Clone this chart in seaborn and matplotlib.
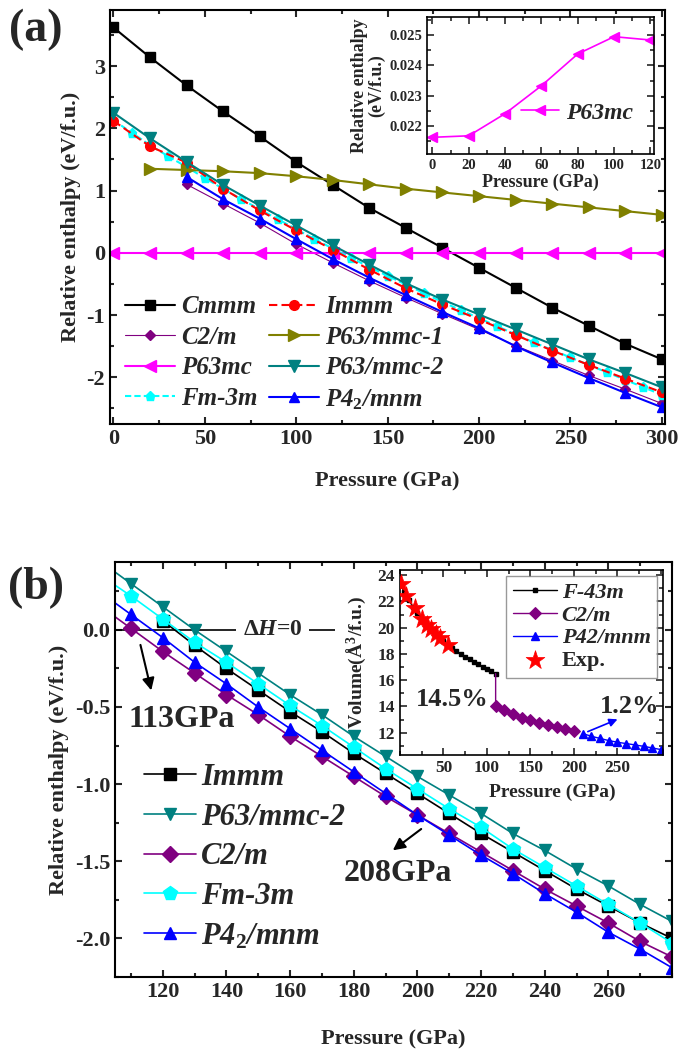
import matplotlib
matplotlib.use('Agg')
import matplotlib.pyplot as plt
import seaborn as sns
from matplotlib.ticker import AutoMinorLocator, MultipleLocator, FormatStrFormatter

sns.set_style('ticks')
plt.rcParams['font.family'] = ['Liberation Serif', 'DejaVu Serif']
plt.rcParams['font.weight'] = 'bold'
plt.rcParams['axes.labelweight'] = 'bold'
plt.rcParams['mathtext.fontset'] = 'custom'
plt.rcParams['mathtext.rm'] = 'Liberation Serif:bold'
plt.rcParams['mathtext.it'] = 'Liberation Serif:italic:bold'
plt.rcParams['mathtext.bf'] = 'Liberation Serif:bold'
plt.rcParams['axes.unicode_minus'] = False

# ---------------- panel (a): relative enthalpy, 0-300 GPa ----------------
p_a = [0, 20, 40, 60, 80, 100, 120, 140, 160, 180, 200, 220, 240, 260, 280, 300]
cmmm_a = [3.62, 3.14, 2.69, 2.27, 1.87, 1.46, 1.09, 0.72, 0.40, 0.08, -0.24, -0.56, -0.88, -1.17, -1.46, -1.71]
immm_a = [2.12, 1.71, 1.45, 1.03, 0.68, 0.36, 0.05, -0.27, -0.57, -0.83, -1.07, -1.32, -1.57, -1.80, -2.02, -2.24]
p63mc_a = [0, 0, 0, 0, 0, 0, 0, 0, 0, 0, 0, 0, 0, 0, 0, 0]
p63mmc2_a = [2.25, 1.84, 1.46, 1.09, 0.76, 0.44, 0.12, -0.19, -0.49, -0.75, -0.99, -1.23, -1.47, -1.71, -1.93, -2.16]

p_mmc1_a = [20, 40, 60, 80, 100, 120, 140, 160, 180, 200, 220, 240, 260, 280, 300]
p63mmc1_a = [1.35, 1.33, 1.31, 1.28, 1.23, 1.17, 1.10, 1.03, 0.97, 0.91, 0.85, 0.79, 0.73, 0.67, 0.61]

p_hi_a = [40, 60, 80, 100, 120, 140, 160, 180, 200, 220, 240, 260, 280, 300]
c2m_a = [1.10, 0.79, 0.48, 0.14, -0.16, -0.45, -0.72, -0.98, -1.23, -1.49, -1.73, -1.97, -2.19, -2.42]
p42_a = [1.22, 0.86, 0.55, 0.22, -0.10, -0.40, -0.68, -0.95, -1.21, -1.50, -1.76, -2.01, -2.25, -2.48]

p_fm_a = [0, 10, 20, 30, 40, 50, 60, 70, 80, 90, 100, 110, 120, 130, 140, 150,
          160, 170, 180, 190, 200, 210, 220, 230, 240, 250, 260, 270, 280, 290, 300]
fm3m_a = [2.13, 1.93, 1.73, 1.55, 1.38, 1.20, 1.03, 0.86, 0.70, 0.54, 0.38, 0.22, 0.07, -0.08, -0.23, -0.37,
          -0.51, -0.65, -0.79, -0.92, -1.05, -1.18, -1.31, -1.44, -1.56, -1.68, -1.80, -1.92, -2.04, -2.16, -2.28]

# inset (a): P63mc only
p_ins_a = [0, 20, 40, 60, 80, 100, 120]
h_ins_a = [0.02163, 0.02168, 0.02241, 0.02333, 0.02438, 0.02495, 0.02484]

# ---------------- panel (b): zoom 105-280 GPa ----------------
p_b = [100, 110, 120, 130, 140, 150, 160, 170, 180, 190, 200, 210, 220, 230, 240, 250, 260, 270, 280]
p63mmc2_b = [0.45, 0.30, 0.15, 0.00, -0.14, -0.28, -0.42, -0.55, -0.69, -0.82, -0.95, -1.07, -1.19, -1.32, -1.43, -1.55, -1.66, -1.78, -1.89]
fm3m_b = [0.36, 0.22, 0.07, -0.08, -0.21, -0.35, -0.49, -0.62, -0.76, -0.90, -1.03, -1.16, -1.28, -1.42, -1.54, -1.66, -1.78, -1.90, -2.03]
c2m_b = [0.16, 0.01, -0.14, -0.28, -0.42, -0.55, -0.69, -0.82, -0.95, -1.08, -1.20, -1.32, -1.44, -1.56, -1.68, -1.79, -1.90, -2.02, -2.12]
p42_b = [0.25, 0.10, -0.05, -0.21, -0.35, -0.50, -0.64, -0.78, -0.92, -1.06, -1.20, -1.33, -1.46, -1.58, -1.71, -1.83, -1.96, -2.07, -2.19]
p_immm_b = [120, 130, 140, 150, 160, 170, 180, 190, 200, 210, 220, 230, 240, 250, 260, 270, 280]
immm_b = [0.06, -0.10, -0.25, -0.39, -0.53, -0.66, -0.80, -0.93, -1.06, -1.19, -1.32, -1.44, -1.56, -1.68, -1.79, -1.90, -2.00]

# inset (b): volume vs pressure
p_f43 = [0, 5, 10, 15, 20, 25, 30, 35, 40, 45, 50, 55, 60, 65, 70, 75, 80, 85, 90, 95, 100, 105, 110]
v_f43 = [23.4, 22.7, 22.1, 21.6, 21.1, 20.7, 20.3, 19.9, 19.6, 19.3, 19.0, 18.7, 18.45, 18.2, 18.0, 17.8,
         17.6, 17.4, 17.2, 17.0, 16.85, 16.7, 16.5]
p_exp = [1, 7, 17, 25, 31, 36, 41, 46, 55]
v_exp = [23.3, 22.4, 21.5, 20.7, 20.2, 19.9, 19.5, 19.2, 18.7]
p_c2m_v = [110, 110, 120, 130, 140, 150, 160, 170, 180, 190, 200]
v_c2m = [16.5, 14.0, 13.7, 13.4, 13.15, 12.95, 12.75, 12.6, 12.4, 12.25, 12.1]
p_p42_v = [210, 220, 230, 240, 250, 260, 270, 280, 290, 300]
v_p42 = [11.93, 11.73, 11.56, 11.4, 11.27, 11.17, 11.07, 10.96, 10.84, 10.71]


def style_axes(ax, lsize, tsize, width=1.5):
    ax.tick_params(which='both', direction='in', top=True, right=True, width=width, labelsize=tsize)
    ax.tick_params(which='major', length=5)
    ax.tick_params(which='minor', length=3)
    ax.xaxis.set_minor_locator(AutoMinorLocator(2))
    ax.yaxis.set_minor_locator(AutoMinorLocator(2))
    for s in ax.spines.values():
        s.set_linewidth(width)
        s.set_color('black')
    ax.xaxis.label.set_size(lsize)
    ax.yaxis.label.set_size(lsize)


def line(ax, x, y, color, marker, ms, lw=1.5, ls='-', label=None, mfc=None, **kw):
    sns.lineplot(x=x, y=y, ax=ax, color=color, marker=marker, markersize=ms, linewidth=lw,
                 linestyle=ls, markeredgecolor=color, markerfacecolor=mfc or color,
                 markeredgewidth=1, label=label, estimator=None, sort=False, legend=False, **kw)


fig = plt.figure(figsize=(6.86, 10.54), dpi=100)

# ---- (a)
ax1 = fig.add_axes([0.160, 0.5977, 0.810, 0.3928])
line(ax1, p_a, cmmm_a, 'black', 's', 7, label='Cmmm')
line(ax1, p_hi_a, c2m_a, '#800080', 'D', 5.5, lw=0.8, label='C2/m')
line(ax1, p_a, p63mc_a, '#ff00ff', '<', 8, label='P63mc')
line(ax1, p_fm_a, fm3m_a, '#00ffff', 'p', 6.5, ls=(0, (3, 1.5)), label='Fm-3m')
line(ax1, p_a, immm_a, 'red', 'o', 7, ls=(0, (4, 2)), label='Immm')
line(ax1, p_mmc1_a, p63mmc1_a, '#808000', '>', 8, label='P63/mmc-1')
line(ax1, p_a, p63mmc2_a, '#008080', 'v', 8, label='P63/mmc-2')
line(ax1, p_hi_a, p42_a, 'blue', '^', 7, label='P4$_2$/mnm')
ax1.set_xlim(-2, 302)
ax1.set_ylim(-2.75, 3.9)
ax1.xaxis.set_major_locator(MultipleLocator(50))
ax1.yaxis.set_major_locator(MultipleLocator(1))
ax1.set_xlabel('Pressure (GPa)', labelpad=16)
ax1.set_ylabel('Relative enthalpy (eV/f.u.)')
style_axes(ax1, 16, 16)
ax1.legend(ncol=2, loc='lower left', bbox_to_anchor=(0.0, -0.006), frameon=False,
           prop={'size': 18, 'style': 'italic', 'weight': 'bold'},
           handlelength=2.0, handletextpad=0.25, columnspacing=0.45, labelspacing=0.3,
           borderaxespad=0.2)

# inset (a)
ins1 = fig.add_axes([0.6224, 0.8539, 0.331, 0.130])
line(ins1, p_ins_a, h_ins_a, '#ff00ff', '<', 7, lw=1.2, label='P63mc')
ins1.set_xlim(-3, 122)
ins1.set_ylim(0.02108, 0.0256)
ins1.xaxis.set_major_locator(MultipleLocator(20))
ins1.yaxis.set_major_locator(MultipleLocator(0.001))
ins1.yaxis.set_major_formatter(FormatStrFormatter('%.3f'))
ins1.set_xlabel('Pressure (GPa)', labelpad=1)
ins1.set_ylabel('Relative enthalpy\n(eV/f.u.)', labelpad=3, linespacing=1.0)
style_axes(ins1, 13, 10.5, width=1.2)
ins1.legend(loc='center right', bbox_to_anchor=(1.0, 0.3), frameon=False,
            prop={'size': 17, 'style': 'italic', 'weight': 'bold'},
            handlelength=1.6, handletextpad=0.3)

# ---- (b)
ax2 = fig.add_axes([0.1676, 0.0731, 0.812, 0.3937])
ax2.hlines(0, 105, 143, color='black', lw=1.2, zorder=1)
ax2.hlines(0, 166, 174, color='black', lw=1.2, zorder=1)
ax2.text(154.5, 0, r'$\Delta H$=0', fontsize=17, ha='center', va='center')
line(ax2, p_immm_b, immm_b, 'black', 's', 8, lw=1.2, label='Immm')
line(ax2, p_b, p63mmc2_b, '#008080', 'v', 9, lw=1.2, label='P63/mmc-2')
line(ax2, p_b, c2m_b, '#800080', 'D', 8, lw=1.2, label='C2/m')
line(ax2, p_b, fm3m_b, '#00ffff', 'p', 10, lw=1.2, label='Fm-3m')
line(ax2, p_b, p42_b, 'blue', '^', 8.5, lw=1.2, label='P4$_2$/mnm')
ax2.set_xlim(105, 280)
ax2.set_ylim(-2.25, 0.44)
ax2.set_xticks([120, 140, 160, 180, 200, 220, 240, 260])
ax2.yaxis.set_major_locator(MultipleLocator(0.5))
ax2.yaxis.set_major_formatter(FormatStrFormatter('%.1f'))
ax2.set_xlabel('Pressure (GPa)', labelpad=20)
ax2.set_ylabel('Relative enthalpy (eV/f.u.)')
style_axes(ax2, 16, 16)
ax2.annotate('', xy=(116.6, -0.41), xytext=(112.8, -0.08),
             arrowprops=dict(arrowstyle='-|>', color='black', lw=1.5, mutation_scale=18))
ax2.text(126, -0.58, '113GPa', fontsize=23, ha='center', va='center')
ax2.annotate('', xy=(191.6, -1.44), xytext=(201.9, -1.28),
             arrowprops=dict(arrowstyle='-|>', color='black', lw=1.5, mutation_scale=18))
ax2.text(194, -1.58, '208GPa', fontsize=23, ha='center', va='center')
ax2.legend(loc='lower left', bbox_to_anchor=(0.02, 0.018), frameon=False,
           prop={'size': 22, 'style': 'italic', 'weight': 'bold'},
           handlelength=1.7, handletextpad=0.15, labelspacing=0.35, borderaxespad=0.2)

# inset (b)
ins2 = fig.add_axes([0.583, 0.2837, 0.383, 0.1755])
line(ins2, p_f43, v_f43, 'black', 's', 3, lw=1.0, label='F-43m')
sns.lineplot(x=p_c2m_v, y=v_c2m, ax=ins2, color='#800080', marker='D', markersize=6, linewidth=1.0,
             markeredgecolor='#800080', markevery=list(range(1, len(p_c2m_v))),
             estimator=None, sort=False, legend=False, label='C2/m')
line(ins2, p_p42_v, v_p42, 'blue', '^', 5.5, lw=1.0, label='P42/mnm')
sns.scatterplot(x=p_exp, y=v_exp, ax=ins2, color='red', marker='*', s=200, edgecolor='red',
                linewidth=0.5, label='Exp.', legend=False, zorder=5)
ins2.set_xlim(0, 302)
ins2.set_ylim(10.3, 24.4)
ins2.yaxis.set_major_locator(MultipleLocator(2))
ins2.set_xticks([50, 100, 150, 200, 250])
ins2.set_xlabel('Pressure (GPa)', labelpad=6)
ins2.xaxis.label.set_x(0.58)
ins2.set_ylabel('Volume(Å$^3$/f.u.)', labelpad=7)
style_axes(ins2, 14, 12.5, width=1.2)
ins2.text(60, 14.55, '14.5%', fontsize=19, ha='center', va='center')
ins2.text(264, 14.0, '1.2%', fontsize=19, ha='center', va='center')
ins2.annotate('', xy=(253, 13.1), xytext=(213, 12.0),
              arrowprops=dict(arrowstyle='-|>', color='blue', lw=1.2, mutation_scale=12))
leg2 = ins2.legend(loc='upper right', frameon=True, fancybox=False, edgecolor='0.5',
                   prop={'size': 16, 'style': 'italic', 'weight': 'bold'},
                   handlelength=2.0, handletextpad=0.2, labelspacing=0.1, borderpad=0.3,
                   borderaxespad=0.25)
leg2.get_texts()[-1].set_style('normal')

fig.text(0.052, 0.972, '(a)', fontsize=33, ha='center', va='center')
fig.text(0.052, 0.442, '(b)', fontsize=33, ha='center', va='center')

fig.savefig('out.png', dpi=100, facecolor='white')
